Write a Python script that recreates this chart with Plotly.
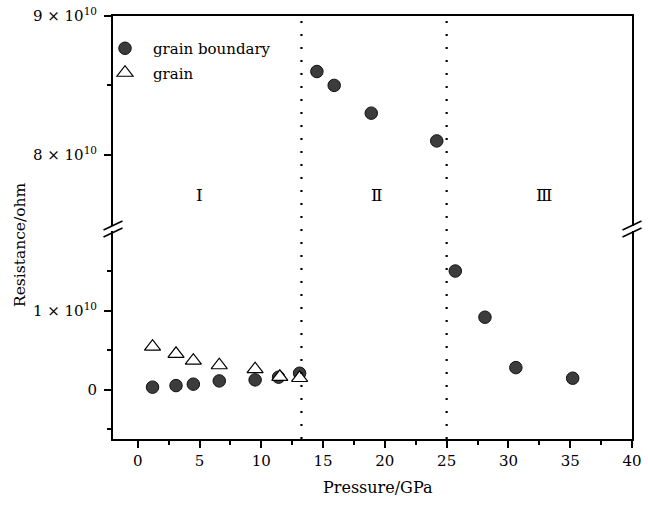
import plotly.graph_objects as go

# ---------------- data ----------------
# grain boundary resistance (ohm) vs pressure (GPa)
gb_pressure = [1.2, 3.1, 4.5, 6.6, 9.5, 11.4, 13.1, 14.5, 15.9, 18.9, 24.2, 25.7, 28.1, 30.6, 35.2]
gb_resistance = [0.034e10, 0.054e10, 0.072e10, 0.113e10, 0.126e10, 0.16e10, 0.21e10,
                 8.60e10, 8.50e10, 8.30e10, 8.10e10, 1.50e10, 0.917e10, 0.281e10, 0.147e10]

# grain resistance (ohm) vs pressure (GPa)
g_pressure = [1.2, 3.1, 4.5, 6.6, 9.5, 11.5, 13.1]
g_resistance = [0.545e10, 0.455e10, 0.368e10, 0.311e10, 0.262e10, 0.165e10, 0.15e10]

# phase boundaries (GPa) and region labels
phase_bounds = [13.25, 25.0]
region_labels = ["Ⅰ", "Ⅱ", "Ⅲ"]
region_x = [5.0, 19.4, 32.9]
region_y = [7.71e10, 7.71e10, 7.71e10]

x_ticks = [0, 5, 10, 15, 20, 25, 30, 35, 40]
low_ticks = [0, 1e10]
low_ticktext = ["0", "1 × 10<sup>10</sup>"]
up_ticks = [8e10, 9e10]
up_ticktext = ["8 × 10<sup>10</sup>", "9 × 10<sup>10</sup>"]

BREAK = 5e10  # values above this go to the upper segment

# ---------------- figure ----------------
FONT = "DejaVu Serif"
W, H = 648, 508
ML, MR, MT, MB = 113, 16, 16, 69
PW, PH = W - ML - MR, H - MT - MB


def xp(px):
    return (px - ML) / PW


def yp(py):
    return (H - MB - py) / PH


lo_x = [p for p, r in zip(gb_pressure, gb_resistance) if r < BREAK]
lo_y = [r for r in gb_resistance if r < BREAK]
up_x = [p for p, r in zip(gb_pressure, gb_resistance) if r >= BREAK]
up_y = [r for r in gb_resistance if r >= BREAK]

circle = dict(symbol="circle", size=12.5, color="#3c3c3c", line=dict(color="#111111", width=1))
tri = dict(symbol="triangle-up", size=14, color="white", line=dict(color="black", width=1.2))

fig = go.Figure()
fig.add_trace(go.Scatter(x=lo_x, y=lo_y, mode="markers", marker=circle,
                         name="grain boundary", legendgroup="gb", xaxis="x", yaxis="y"))
fig.add_trace(go.Scatter(x=g_pressure, y=g_resistance, mode="markers", marker=tri,
                         name="grain", xaxis="x", yaxis="y"))
fig.add_trace(go.Scatter(x=up_x, y=up_y, mode="markers", marker=circle,
                         name="grain boundary", legendgroup="gb", showlegend=False,
                         xaxis="x2", yaxis="y2"))

shapes = []
for b in phase_bounds:
    shapes.append(dict(type="line", xref="x", yref="paper", x0=b, x1=b, y0=0, y1=1,
                       line=dict(color="black", width=2.2, dash="2px,11px")))

# axis-break marks
for ax_px in (ML, ML + PW):
    for cy in (225.5, 232.5):
        shapes.append(dict(type="line", xref="paper", yref="paper",
                           x0=xp(ax_px - 9.5), y0=yp(cy + 4.5),
                           x1=xp(ax_px + 9.5), y1=yp(cy - 4.5),
                           line=dict(color="black", width=1.6)))

annotations = []
for t, x, y in zip(region_labels, region_x, region_y):
    annotations.append(dict(text=t, x=x, y=y, xref="x2", yref="y2", showarrow=False,
                            xanchor="center", yanchor="middle",
                            font=dict(family=FONT, size=17, color="black")))
annotations.append(dict(text="Resistance/ohm", x=xp(20), y=yp(245), xref="paper", yref="paper",
                        xanchor="center", yanchor="middle",
                        showarrow=False, textangle=-90,
                        font=dict(family=FONT, size=15.5, color="black")))
annotations.append(dict(text="Pressure/GPa", x=xp(378), y=yp(487), xref="paper", yref="paper",
                        xanchor="center", yanchor="middle",
                        showarrow=False, font=dict(family=FONT, size=16, color="black")))

lo_top = 231
up_bot = 226
axis_common = dict(showline=True, linecolor="black", linewidth=2, showgrid=False,
                   zeroline=False, ticks="outside", ticklen=7, tickwidth=2, tickcolor="black",
                   automargin=False,
                   tickfont=dict(family=FONT, size=15, color="black"))

fig.update_layout(
    width=W, height=H,
    margin=dict(l=ML, r=MR, t=MT, b=MB, autoexpand=False),
    paper_bgcolor="white", plot_bgcolor="white",
    font=dict(family=FONT, color="black"),
    showlegend=True,
    legend=dict(x=xp(97), y=yp(32), xanchor="left", yanchor="top",
                bgcolor="rgba(0,0,0,0)", itemwidth=46, tracegroupgap=2,
                font=dict(family=FONT, size=15, color="black")),
    xaxis=dict(**axis_common, range=[-2, 40], tickvals=x_ticks, anchor="y",
               minor=dict(dtick=2.5, tick0=0, ticks="outside", ticklen=4, tickwidth=2,
                          tickcolor="black")),
    xaxis2=dict(range=[-2, 40], matches="x", anchor="y2", side="top", showline=True,
                linecolor="black", linewidth=2, showgrid=False, zeroline=False,
                automargin=False, showticklabels=False, ticks=""),
    yaxis=dict(**axis_common, range=[-0.62e10, 2.005e10], domain=[0, yp(lo_top)],
               tickvals=low_ticks, ticktext=low_ticktext, anchor="x", mirror=True,
               ticklabelstandoff=4,
               minor=dict(tickvals=[-0.5e10, 0.5e10, 1.5e10], ticks="outside", ticklen=4,
                          tickwidth=2, tickcolor="black")),
    yaxis2=dict(**axis_common, range=[7.487e10, 9e10], domain=[yp(up_bot), 1],
                tickvals=up_ticks, ticktext=up_ticktext, anchor="x2", mirror=True,
                ticklabelstandoff=4,
                minor=dict(tickvals=[8.5e10], ticks="outside", ticklen=4,
                           tickwidth=2, tickcolor="black")),
    shapes=shapes,
    annotations=annotations,
)

fig.write_html("out.html", config={"displayModeBar": False},
               post_script="document.body.style.margin='0';document.body.style.padding='0';")
